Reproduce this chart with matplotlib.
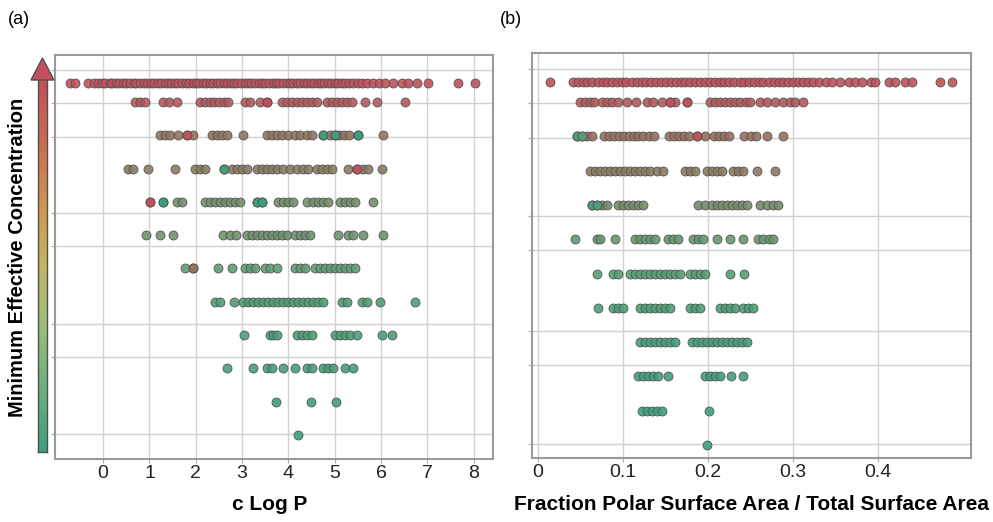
import numpy as np
import matplotlib
matplotlib.use('Agg')
import matplotlib.pyplot as plt
from matplotlib.colors import LinearSegmentedColormap
from matplotlib.patches import Polygon

# --- data: one list per MEC level (top row = highest MEC) ---
# panel (a): c Log P
clogp_r1 = [-0.71, -0.6, -0.32, -0.2, -0.12, -0.03, 0.05, 0.14, 0.2, 0.28, 0.35, 0.43, 0.5, 0.58,
            0.66, 0.72, 0.8, 0.88, 0.95, 1.03, 1.1, 1.18, 1.25, 1.33, 1.4, 1.47, 1.55, 1.62, 1.7,
            1.78, 1.85, 1.93, 2.0, 2.08, 2.16, 2.23, 2.3, 2.38, 2.46, 2.53, 2.6, 2.68, 2.76, 2.83,
            2.9, 2.98, 3.06, 3.13, 3.2, 3.28, 3.36, 3.43, 3.5, 3.58, 3.66, 3.73, 3.8, 3.88, 3.96,
            4.03, 4.1, 4.18, 4.26, 4.33, 4.4, 4.48, 4.56, 4.63, 4.7, 4.78, 4.86, 4.93, 5.0, 5.08,
            5.16, 5.23, 5.3, 5.4, 5.5, 5.6, 5.7, 5.82, 5.95, 6.09, 6.26, 6.46, 6.59, 6.78, 7.02,
            7.67, 8.03]
clogp_r2 = [0.69, 0.8, 0.91, 1.3, 1.43, 1.6, 2.1, 2.2, 2.3, 2.4, 2.5, 2.6, 2.7, 3.07, 3.17, 3.39,
            3.54, 3.87, 3.97, 4.08, 4.19, 4.3, 4.4, 4.51, 4.62, 4.84, 4.94, 5.05, 5.16, 5.27, 5.38,
            5.66, 5.92, 6.52]
clogp_r3 = [1.23, 1.34, 1.45, 1.62, 1.81, 1.94, 2.35, 2.46, 2.56, 2.67, 3.02, 3.54, 3.65, 3.76,
            3.87, 4.0, 4.15, 4.25, 4.4, 4.51, 4.75, 4.9, 5.0, 5.1, 5.2, 5.3, 5.5, 6.05]
clogp_r4 = [0.54, 0.65, 0.97, 1.56, 1.99, 2.1, 2.2, 2.6, 2.79, 2.9, 3.0, 3.11, 3.33, 3.43, 3.54,
            3.65, 3.76, 3.89, 4.04, 4.19, 4.32, 4.43, 4.62, 4.73, 4.84, 4.94, 5.29, 5.49, 5.62,
            5.72, 6.03]
clogp_r5 = [1.02, 1.3, 1.6, 1.71, 2.2, 2.31, 2.42, 2.53, 2.63, 2.74, 2.85, 2.96, 3.33, 3.43, 3.78,
            3.89, 4.0, 4.1, 4.41, 4.54, 4.64, 4.75, 4.86, 5.12, 5.23, 5.33, 5.44, 5.83]
clogp_r6 = [0.93, 1.23, 1.51, 2.59, 2.74, 2.87, 3.11, 3.22, 3.33, 3.43, 3.54, 3.65, 3.76, 3.87,
            3.97, 4.15, 4.25, 4.36, 4.47, 5.08, 5.29, 5.4, 5.62, 6.05]
clogp_r7 = [1.77, 1.94, 2.48, 2.79, 3.07, 3.17, 3.28, 3.5, 3.61, 3.76, 4.15, 4.25, 4.36, 4.58,
            4.69, 4.79, 4.9, 5.0, 5.12, 5.23, 5.33, 5.44]
clogp_r8 = [2.42, 2.53, 2.83, 3.02, 3.13, 3.24, 3.35, 3.46, 3.56, 3.67, 3.78, 3.89, 4.0, 4.1, 4.21,
            4.32, 4.43, 4.54, 4.64, 4.75, 5.16, 5.27, 5.59, 5.7, 5.98, 6.74]
clogp_r9 = [3.05, 3.61, 3.67, 3.76, 4.19, 4.3, 4.41, 4.51, 5.01, 5.12, 5.23, 5.33, 5.49, 6.03, 6.24]
clogp_r10 = [2.68, 3.24, 3.54, 3.65, 3.89, 4.15, 4.41, 4.51, 4.75, 4.86, 4.97, 5.23, 5.4]
clogp_r11 = [3.74, 4.49, 5.03]
clogp_r12 = [4.21]

# panel (b): fraction polar surface area
fpsa_r1 = [0.014, 0.041, 0.047, 0.053, 0.058, 0.064, 0.07, 0.076, 0.081, 0.087, 0.093, 0.099,
           0.104, 0.11, 0.116, 0.122, 0.127, 0.133, 0.139, 0.145, 0.15, 0.156, 0.162, 0.168,
           0.173, 0.179, 0.185, 0.191, 0.196, 0.202, 0.208, 0.214, 0.219, 0.225, 0.231, 0.237,
           0.242, 0.248, 0.254, 0.26, 0.265, 0.271, 0.277, 0.283, 0.288, 0.294, 0.3, 0.306,
           0.311, 0.317, 0.323, 0.33, 0.338, 0.346, 0.355, 0.366, 0.373, 0.381, 0.391, 0.396,
           0.413, 0.42, 0.431, 0.44, 0.473, 0.487]
fpsa_r2 = [0.049, 0.055, 0.061, 0.066, 0.075, 0.081, 0.087, 0.094, 0.105, 0.115, 0.128, 0.135,
           0.146, 0.155, 0.161, 0.175, 0.202, 0.208, 0.214, 0.22, 0.226, 0.232, 0.238, 0.244,
           0.249, 0.261, 0.269, 0.279, 0.288, 0.296, 0.302, 0.311]
fpsa_r3 = [0.046, 0.052, 0.058, 0.064, 0.078, 0.084, 0.089, 0.095, 0.101, 0.107, 0.113, 0.118,
           0.124, 0.13, 0.136, 0.154, 0.16, 0.166, 0.172, 0.178, 0.187, 0.196, 0.207, 0.213,
           0.219, 0.225, 0.242, 0.25, 0.256, 0.269, 0.288]
fpsa_r4 = [0.061, 0.067, 0.073, 0.079, 0.085, 0.091, 0.096, 0.102, 0.108, 0.114, 0.12, 0.126,
           0.132, 0.14, 0.147, 0.173, 0.179, 0.185, 0.199, 0.205, 0.211, 0.216, 0.229, 0.235,
           0.241, 0.258, 0.279]
fpsa_r5 = [0.064, 0.069, 0.075, 0.081, 0.094, 0.1, 0.106, 0.112, 0.118, 0.124, 0.188, 0.196,
           0.205, 0.211, 0.216, 0.222, 0.228, 0.234, 0.24, 0.246, 0.261, 0.269, 0.276, 0.282]
fpsa_r6 = [0.044, 0.069, 0.073, 0.091, 0.114, 0.12, 0.126, 0.132, 0.138, 0.153, 0.159, 0.165,
           0.182, 0.188, 0.194, 0.211, 0.226, 0.241, 0.259, 0.265, 0.271, 0.276]
fpsa_r7 = [0.069, 0.088, 0.094, 0.108, 0.114, 0.12, 0.126, 0.132, 0.138, 0.144, 0.149, 0.155,
           0.161, 0.167, 0.179, 0.185, 0.191, 0.196, 0.226, 0.242]
fpsa_r8 = [0.071, 0.088, 0.094, 0.1, 0.12, 0.126, 0.132, 0.138, 0.144, 0.149, 0.155, 0.179,
           0.185, 0.191, 0.214, 0.22, 0.226, 0.232, 0.241, 0.247, 0.253]
fpsa_r9 = [0.12, 0.126, 0.132, 0.138, 0.144, 0.149, 0.155, 0.161, 0.181, 0.187, 0.193, 0.199,
           0.205, 0.211, 0.216, 0.222, 0.228, 0.234, 0.24, 0.246]
fpsa_r10 = [0.118, 0.124, 0.129, 0.135, 0.141, 0.153, 0.196, 0.202, 0.208, 0.214, 0.227, 0.241]
fpsa_r11 = [0.122, 0.128, 0.134, 0.14, 0.146, 0.201]
fpsa_r12 = [0.199]

# MEC level of each row (top row sits a bit closer to the second one)
levels = [10.57, 10, 9, 8, 7, 6, 5, 4, 3, 2, 1, 0]
# colour value per row: 1 = red (high MEC), 0 = green
row_colour_a = [0.97, 0.88, 0.62, 0.55, 0.38, 0.35, 0.25, 0.15, 0.12, 0.08, 0.04, 0.0]
row_colour_b = [0.97, 0.88, 0.66, 0.55, 0.4, 0.3, 0.2, 0.12, 0.08, 0.05, 0.02, 0.0]

# single points that stand out from their row colour (row index, x, colour value)
odd_a = [(1, 3.54, 1.0), (2, 1.81, 1.0), (2, 4.75, 0.0), (2, 5.0, 0.05), (2, 5.5, 0.0),
         (3, 2.6, 0.1), (3, 5.49, 0.95), (4, 1.02, 1.0), (4, 1.3, 0.0), (4, 3.33, 0.05),
         (4, 3.43, 0.0), (6, 1.94, 0.6)]
odd_b = [(1, 0.155, 1.0), (1, 0.175, 1.0), (2, 0.046, 0.15), (2, 0.052, 0.2), (2, 0.187, 1.0),
         (4, 0.064, 0.1), (4, 0.069, 0.15)]

clogp_ticks = [0, 1, 2, 3, 4, 5, 6, 7, 8]
fpsa_ticks = [0, 0.1, 0.2, 0.3, 0.4]
fpsa_ticklabels = ['0', '0.1', '0.2', '0.3', '0.4']
grid_levels = [10.96, 9.97, 8.95, 6.67, 5.68, 3.33, 2.34, 0.03]

mec_cmap = LinearSegmentedColormap.from_list(
    'mec', ['#3a9f7c', '#5f9c74', '#867f62', '#a2665c', '#c24f5a'])

narrow = ['Liberation Sans Narrow', 'Liberation Sans', 'DejaVu Sans']
plain = ['Liberation Sans', 'DejaVu Sans']


def strip_panel(ax, rows, row_colours, odd, xlim, ylim, xticks, xticklabels):
    for k, xs in enumerate(rows):
        ys = np.full(len(xs), levels[k])
        ax.scatter(xs, ys, s=42, color=mec_cmap(row_colours[k]), edgecolor='#4d4d4d',
                   linewidth=0.6, alpha=0.9, zorder=3)
    for k, x, c in odd:
        ax.scatter([x], [levels[k]], s=42, color=mec_cmap(c), edgecolor='#4d4d4d',
                   linewidth=0.6, alpha=0.95, zorder=4)
    ax.set_xlim(*xlim)
    ax.set_ylim(*ylim)
    ax.set_xticks(xticks)
    ax.set_xticklabels(xticklabels, family=narrow, fontsize=14, color='#222222')
    ax.set_yticks(grid_levels)
    ax.set_yticklabels([])
    ax.tick_params(axis='both', length=3, width=0.8, color='#aaaaaa', pad=1)
    ax.grid(True, color='#d0d0d0', linewidth=1.0, zorder=0)
    ax.set_axisbelow(True)
    for sp in ax.spines.values():
        sp.set_color('#9a9a9a')
        sp.set_linewidth(1.5)


fig = plt.figure(figsize=(9.93, 5.22), dpi=100)
W, H = 993.0, 522.0

ax_a = fig.add_axes([55 / W, 1 - 459 / H, 438 / W, 404 / H])
strip_panel(ax_a,
            [clogp_r1, clogp_r2, clogp_r3, clogp_r4, clogp_r5, clogp_r6,
             clogp_r7, clogp_r8, clogp_r9, clogp_r10, clogp_r11, clogp_r12],
            row_colour_a, odd_a, (-1.04, 8.42), (-0.72, 11.41),
            clogp_ticks, [str(t) for t in clogp_ticks])

ax_b = fig.add_axes([532 / W, 1 - 458 / H, 439 / W, 405 / H])
strip_panel(ax_b,
            [fpsa_r1, fpsa_r2, fpsa_r3, fpsa_r4, fpsa_r5, fpsa_r6,
             fpsa_r7, fpsa_r8, fpsa_r9, fpsa_r10, fpsa_r11, fpsa_r12],
            row_colour_b, odd_b, (-0.007, 0.509), (-0.38, 11.43),
            fpsa_ticks, fpsa_ticklabels)

# x labels
fig.text(270 / W, 1 - 505 / H, 'c Log P', ha='center', va='center',
         family=narrow, fontweight='bold', fontsize=15)
fig.text(752 / W, 1 - 505 / H, 'Fraction Polar Surface Area / Total Surface Area',
         ha='center', va='center', family=narrow, fontweight='bold', fontsize=15)

# y label and gradient arrow
fig.text(18 / W, 1 - 257 / H, 'Minimum Effective Concentration', rotation=90,
         ha='center', va='center', family=plain, fontweight='bold', fontsize=14.5)

arrow_cmap = LinearSegmentedColormap.from_list(
    'arrow', ['#3f9f80', '#6bb07e', '#9cbf78', '#c4b462', '#d0914f', '#c86a50', '#c24f5e'])
ax_bar = fig.add_axes([38 / W, 1 - 452 / H, 9 / W, 378 / H])
ax_bar.imshow(np.linspace(0, 1, 256)[::-1].reshape(-1, 1), aspect='auto', cmap=arrow_cmap)
ax_bar.set_xticks([])
ax_bar.set_yticks([])
for sp in ax_bar.spines.values():
    sp.set_color('#505050')
    sp.set_linewidth(1.0)

head = Polygon([[42.5 / W, 1 - 58 / H], [31 / W, 1 - 80 / H], [54 / W, 1 - 80 / H]],
               closed=True, transform=fig.transFigure, facecolor='#c4505e',
               edgecolor='#505050', linewidth=1.0)
fig.patches.append(head)

# panel letters
fig.text(8 / W, 1 - 19 / H, '(a)', ha='left', va='center', family=plain, fontsize=13)
fig.text(500 / W, 1 - 19 / H, '(b)', ha='left', va='center', family=plain, fontsize=13)

fig.savefig('out.png', dpi=100)
